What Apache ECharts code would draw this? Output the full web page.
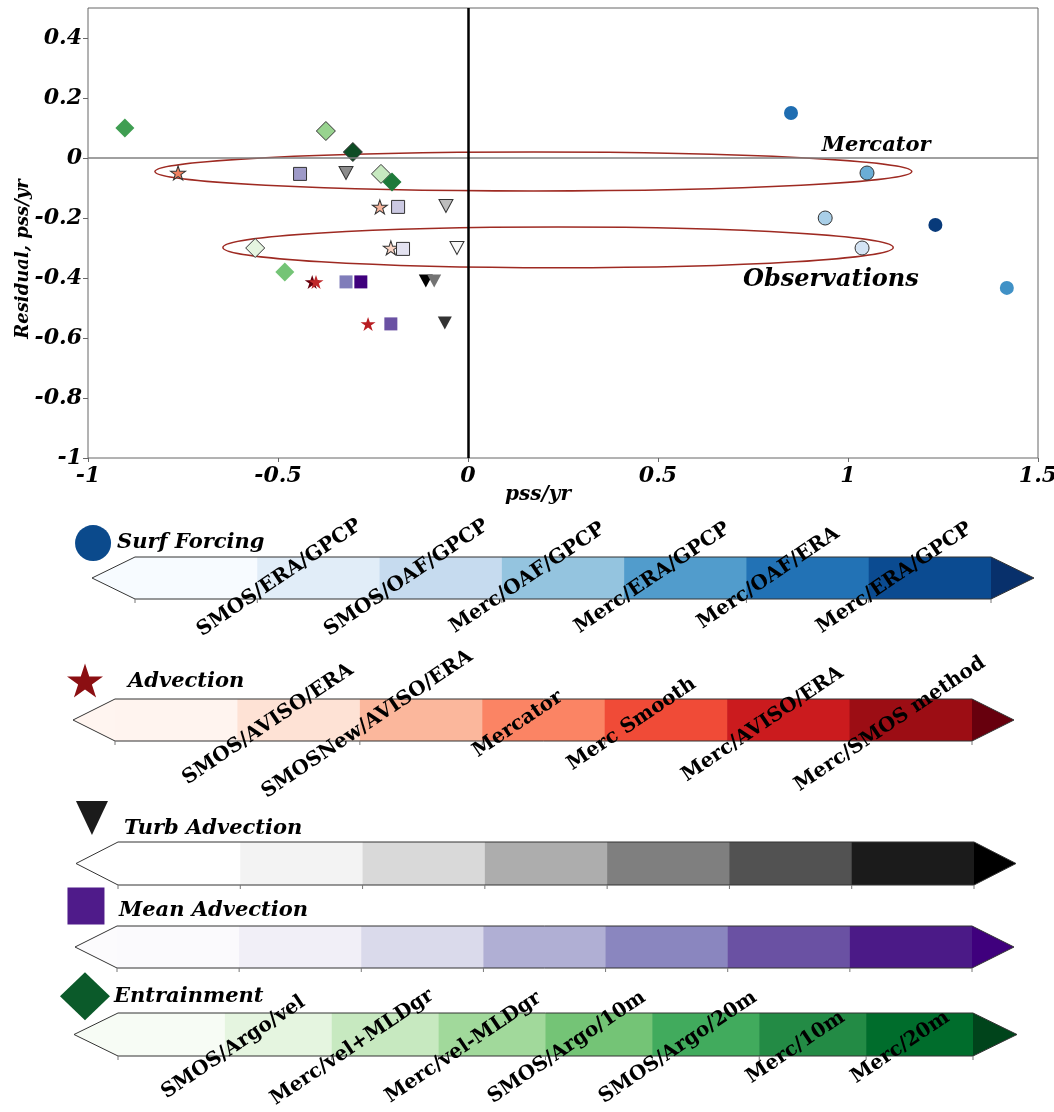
<!DOCTYPE html>
<html lang="en">
<head>
<meta charset="UTF-8">
<title>Residual vs pss/yr</title>
<script src="https://cdn.jsdelivr.net/npm/echarts@6/dist/echarts.min.js"></script>
<style>
  html, body { margin: 0; padding: 0; background: #fff; }
  #main { width: 1054px; height: 1112px; }
</style>
</head>
<body>
<div id="main"></div>
<script>
// ---- scatter points: x = pss/yr, y = residual pss/yr ----
const surfX = [0.85, 1.05, 0.94, 1.23, 1.037, 1.418];
const surfY = [0.15, -0.05, -0.2, -0.223, -0.3, -0.433];
const advX = [-0.763, -0.232, -0.203, -0.41, -0.40, -0.263];
const advY = [-0.05, -0.163, -0.3, -0.413, -0.413, -0.553];
const turbX = [-0.321, -0.058, -0.029, -0.111, -0.089, -0.061];
const turbY = [-0.05, -0.16, -0.3, -0.41, -0.41, -0.55];
const meanX = [-0.442, -0.184, -0.171, -0.321, -0.282, -0.203];
const meanY = [-0.053, -0.163, -0.303, -0.413, -0.413, -0.553];
const entrX = [-0.903, -0.374, -0.303, -0.229, -0.2, -0.56, -0.482];
const entrY = [0.1, 0.09, 0.02, -0.053, -0.08, -0.3, -0.38];

// groups: [centre x, centre y, half width, half height]
const groupEllipses = [[0.172, -0.045, 0.996, 0.065], [0.237, -0.298, 0.882, 0.068]];
const groupNames = ['Mercator', 'Observations'];
const groupNameAt = [[1.074, 0.041], [0.955, -0.407]];

// colour bar tick labels
const surfLabels = ['SMOS/ERA/GPCP', 'SMOS/OAF/GPCP', 'Merc/OAF/GPCP', 'Merc/ERA/GPCP', 'Merc/OAF/ERA', 'Merc/ERA/GPCP'];
const advLabels = ['SMOS/AVISO/ERA', 'SMOSNew/AVISO/ERA', 'Mercator', 'Merc Smooth', 'Merc/AVISO/ERA', 'Merc/SMOS method'];
const entrLabels = ['SMOS/Argo/vel', 'Merc/vel+MLDgr', 'Merc/vel-MLDgr', 'SMOS/Argo/10m', 'SMOS/Argo/20m', 'Merc/10m', 'Merc/20m'];
const surfTicks = [1.18, 2.22, 3.21, 4.23, 5.18, 6.21];
const advTicks = [1.25, 2.06, 3.29, 4.22, 5.29, 6.33];
const entrTicks = [1.08, 2.19, 3.23, 4.2, 5.24, 6.34, 7.32];

// ---- styles ----
const FONT = 'DejaVu Serif';
const surfFill = ['#1f6db1', '#6aaed6', '#a9cfe8', '#083a7a', '#d4e4f4', '#4091c6'];
const surfEdge = [0, 1, 1, 0, 1, 0];
const advFill = ['#f08060', '#f7b39a', '#fbd5c5', '#67000d', '#c0282a', '#b81d22'];
const advEdge = [1, 1, 1, 0, 0, 0];
const turbFill = ['#8c8c8c', '#bdbdbd', '#f7f7f7', '#000000', '#737373', '#333333'];
const turbEdge = [1, 1, 1, 0, 0, 0];
const meanFill = ['#9e9ac8', '#cbc9e2', '#e3e2f0', '#807dba', '#3f007d', '#6a51a3'];
const meanEdge = [1, 1, 1, 0, 0, 0];
const entrFill = ['#3f9e52', '#98d38f', '#0d4d24', '#c7e9c0', '#1e7a3a', '#e5f5e0', '#74c476'];
const entrEdge = [0, 1, 1, 1, 0, 1, 0];

const STAR = 'path://M0,-10 L2.245,-3.09 L9.51,-3.09 L3.633,1.18 L5.88,8.09 L0,3.82 L-5.88,8.09 L-3.633,1.18 L-9.51,-3.09 L-2.245,-3.09 Z';

const bars = [
  { title: 'Surf Forcing', colors: ['#f7fbff', '#e1edf8', '#c6dbef', '#94c4df', '#519ccc', '#2272b5', '#0b4b91'],
    ext: ['#f7fbff', '#08306b'], labels: surfLabels, ticks: surfTicks, labelY: 0.5,
    left: 135, right: 991, top: 557, height: 42, tip: 43,
    icon: { symbol: 'circle', size: 36, color: '#0b4a8c', at: [-0.343, 1.333] }, titleAt: [-0.147, 1.333] },
  { title: 'Advection', colors: ['#fff4ef', '#fee2d5', '#fbb79c', '#fb8464', '#f04b37', '#cb1b1e', '#9c0d14'],
    ext: ['#fff5f0', '#67000d'], labels: advLabels, ticks: advTicks, labelY: 0.4,
    left: 115, right: 972, top: 699, height: 42, tip: 42,
    icon: { symbol: STAR, size: [36, 34], color: '#8b0f12', at: [-0.245, 1.44] }, titleAt: [0.106, 1.405] },
  { title: 'Turb Advection', colors: ['#ffffff', '#f3f3f3', '#d9d9d9', '#adadad', '#7f7f7f', '#525252', '#1b1b1b'],
    ext: ['#ffffff', '#000000'], labels: [], ticks: [], labelY: 0.5,
    left: 118, right: 974, top: 842, height: 43, tip: 42,
    icon: { symbol: 'triangle', size: [32, 34], rotate: 180, color: '#1b1b1b', at: [-0.213, 1.558] }, titleAt: [0.049, 1.302] },
  { title: 'Mean Advection', colors: ['#fbfafd', '#f1eff7', '#dadaeb', '#b0afd4', '#8a86bf', '#6a51a3', '#4b1a87'],
    ext: ['#fcfbfd', '#3f007d'], labels: [], ticks: [], labelY: 0.5,
    left: 117, right: 972, top: 926, height: 42, tip: 42,
    icon: { symbol: 'rect', size: 37, color: '#4f1b8a', at: [-0.254, 1.476] }, titleAt: [0.016, 1.357] },
  { title: 'Entrainment', colors: ['#f7fcf5', '#e5f5e0', '#c7e9c0', '#a1d99b', '#74c476', '#41ab5d', '#238b45', '#006d2c'],
    ext: ['#f7fcf5', '#00441b'], labels: entrLabels, ticks: entrTicks, labelY: 0.2,
    left: 118, right: 973, top: 1013, height: 43, tip: 44,
    icon: { symbol: 'diamond', size: [50, 48], color: '#0b5a2a', at: [-0.309, 1.39] }, titleAt: [-0.037, 1.372] }
];

function points(xs, ys, fills, edges) {
  return xs.map((x, i) => ({
    value: [x, ys[i]],
    itemStyle: { color: fills[i], opacity: 1, borderColor: '#333', borderWidth: edges[i] ? 1 : 0 }
  }));
}

const chart = echarts.init(document.getElementById('main'));

const textBI = { fontFamily: FONT, fontWeight: 'bold', fontStyle: 'italic', color: '#000' };

const grids = [{ left: 88, top: 8, width: 950, height: 450, show: true, borderColor: '#666', borderWidth: 1, outerBoundsMode: 'none' }];
const xAxes = [{
  gridIndex: 0, type: 'value', min: -1, max: 1.5, interval: 0.5,
  axisLine: { show: false, onZero: false }, splitLine: { show: false },
  axisTick: { show: true, length: 4, lineStyle: { color: '#666' } },
  axisLabel: Object.assign({ fontSize: 22, margin: 7 }, textBI),
  name: 'pss/yr', nameLocation: 'middle', nameGap: 27, nameMoveOverlap: false,
  nameTextStyle: Object.assign({ fontSize: 20, padding: [0, 50, 0, 0] }, textBI)
}];
const yAxes = [{
  gridIndex: 0, type: 'value', min: -1, max: 0.5, interval: 0.2,
  axisLine: { show: false, onZero: false }, splitLine: { show: false },
  axisTick: { show: true, length: 5, lineStyle: { color: '#666' } },
  axisLabel: Object.assign({ fontSize: 22, margin: 6, showMaxLabel: false }, textBI),
  name: 'Residual, pss/yr', nameLocation: 'middle', nameGap: 56, nameRotate: 90, nameMoveOverlap: false,
  nameTextStyle: Object.assign({ fontSize: 18, padding: [0, 52, 0, 0] }, textBI)
}];

const series = [
  {
    type: 'custom', xAxisIndex: 0, yAxisIndex: 0, z: 1, silent: true,
    data: groupEllipses,
    renderItem: function (params, api) {
      const c = api.coord([api.value(0), api.value(1)]);
      const s = api.size([api.value(2), api.value(3)]);
      return { type: 'ellipse', shape: { cx: c[0], cy: c[1], rx: s[0], ry: s[1] },
        style: { fill: 'none', stroke: '#9e2a22', lineWidth: 1.5 } };
    },
    markLine: {
      silent: true, symbol: ['none', 'none'], label: { show: false },
      data: [
        { yAxis: 0, lineStyle: { color: '#808080', width: 1.5, type: 'solid' } },
        { xAxis: 0, lineStyle: { color: '#000', width: 2.5, type: 'solid' } }
      ]
    }
  },
  { type: 'scatter', z: 3, symbol: 'circle', symbolSize: 14, data: points(surfX, surfY, surfFill, surfEdge) },
  { type: 'scatter', z: 3, symbol: STAR, symbolSize: [15, 14], data: points(advX, advY, advFill, advEdge) },
  { type: 'scatter', z: 3, symbol: 'triangle', symbolRotate: 180, symbolSize: [14, 13], data: points(turbX, turbY, turbFill, turbEdge) },
  { type: 'scatter', z: 3, symbol: 'rect', symbolSize: 13, data: points(meanX, meanY, meanFill, meanEdge) },
  { type: 'scatter', z: 3, symbol: 'diamond', symbolSize: 19, data: points(entrX, entrY, entrFill, entrEdge) },
  {
    type: 'scatter', z: 4, symbolSize: 0, silent: true,
    itemStyle: { opacity: 1 },
    data: [
      { name: groupNames[0], value: groupNameAt[0] },
      { name: groupNames[1], value: groupNameAt[1], label: { fontSize: 24 } }
    ],
    label: Object.assign({ show: true, position: 'inside', formatter: '{b}', fontSize: 21 }, textBI)
  }
];

bars.forEach((bar, b) => {
  const gi = b + 1;
  const n = bar.colors.length;
  grids.push({ left: bar.left, top: bar.top, width: bar.right - bar.left, height: bar.height, show: false });
  xAxes.push({ gridIndex: gi, type: 'value', min: 0, max: n, show: false });
  yAxes.push({ gridIndex: gi, type: 'value', min: 0, max: 1, show: false });

  const segs = [[-1]].concat(bar.colors.map((c, i) => [i]), [[n]]);
  series.push({
    type: 'custom', xAxisIndex: gi, yAxisIndex: gi, z: 1, silent: true, clip: false,
    data: segs,
    renderItem: function (params, api) {
      const i = api.value(0);
      const bl = api.coord([0, 0]), tr = api.coord([n, 1]);
      const top = tr[1], bot = bl[1], mid = (top + bot) / 2;
      if (i < 0) {
        return { type: 'polygon', shape: { points: [[bl[0], top], [bl[0] - bar.tip, mid], [bl[0], bot]] }, style: { fill: bar.ext[0] } };
      }
      if (i >= n) {
        return { type: 'polygon', shape: { points: [[tr[0], top], [tr[0] + bar.tip, mid], [tr[0], bot]] }, style: { fill: bar.ext[1] } };
      }
      const a = api.coord([i, 1]), z = api.coord([i + 1, 0]);
      return { type: 'rect', shape: { x: a[0], y: a[1], width: z[0] - a[0] + 0.6, height: z[1] - a[1] }, style: { fill: bar.colors[i] } };
    }
  });
  // outline and small ticks
  series.push({
    type: 'custom', xAxisIndex: gi, yAxisIndex: gi, z: 2, silent: true, clip: false,
    data: [[0]],
    renderItem: function (params, api) {
      const bl = api.coord([0, 0]), tr = api.coord([n, 1]);
      const top = tr[1], bot = bl[1], mid = (top + bot) / 2;
      const kids = [{
        type: 'polygon',
        shape: { points: [[bl[0], top], [tr[0], top], [tr[0] + bar.tip, mid], [tr[0], bot], [bl[0], bot], [bl[0] - bar.tip, mid]] },
        style: { fill: 'none', stroke: '#333', lineWidth: 1 }
      }];
      for (let k = 0; k <= n; k++) {
        const x = api.coord([k, 0])[0];
        kids.push({ type: 'line', shape: { x1: x, y1: bot, x2: x, y2: bot + 4 }, style: { stroke: '#777', lineWidth: 1 } });
      }
      return { type: 'group', children: kids };
    }
  });
  // icon
  series.push({
    type: 'scatter', xAxisIndex: gi, yAxisIndex: gi, z: 3, silent: true, clip: false,
    symbol: bar.icon.symbol, symbolSize: bar.icon.size, symbolRotate: bar.icon.rotate || 0,
    itemStyle: { color: bar.icon.color, opacity: 1 },
    data: [bar.icon.at]
  });
  // title
  series.push({
    type: 'scatter', xAxisIndex: gi, yAxisIndex: gi, z: 3, silent: true, clip: false, symbolSize: 0,
    itemStyle: { opacity: 1 },
    data: [{ name: bar.title, value: bar.titleAt }],
    label: Object.assign({ show: true, position: 'right', distance: 0, formatter: '{b}', fontSize: 21 }, textBI)
  });
  // tick labels
  series.push({
    type: 'scatter', xAxisIndex: gi, yAxisIndex: gi, z: 4, silent: true, clip: false, symbolSize: 0,
    itemStyle: { opacity: 1 },
    data: bar.ticks.map((t, k) => ({ name: bar.labels[k], value: [t, bar.labelY] })),
    label: { show: true, position: 'inside', formatter: '{b}', rotate: 34, fontFamily: FONT, fontWeight: 'bold', fontSize: 20, color: '#000' }
  });
});

chart.setOption({
  animation: false,
  grid: grids,
  xAxis: xAxes,
  yAxis: yAxes,
  series: series
});
</script>
</body>
</html>
